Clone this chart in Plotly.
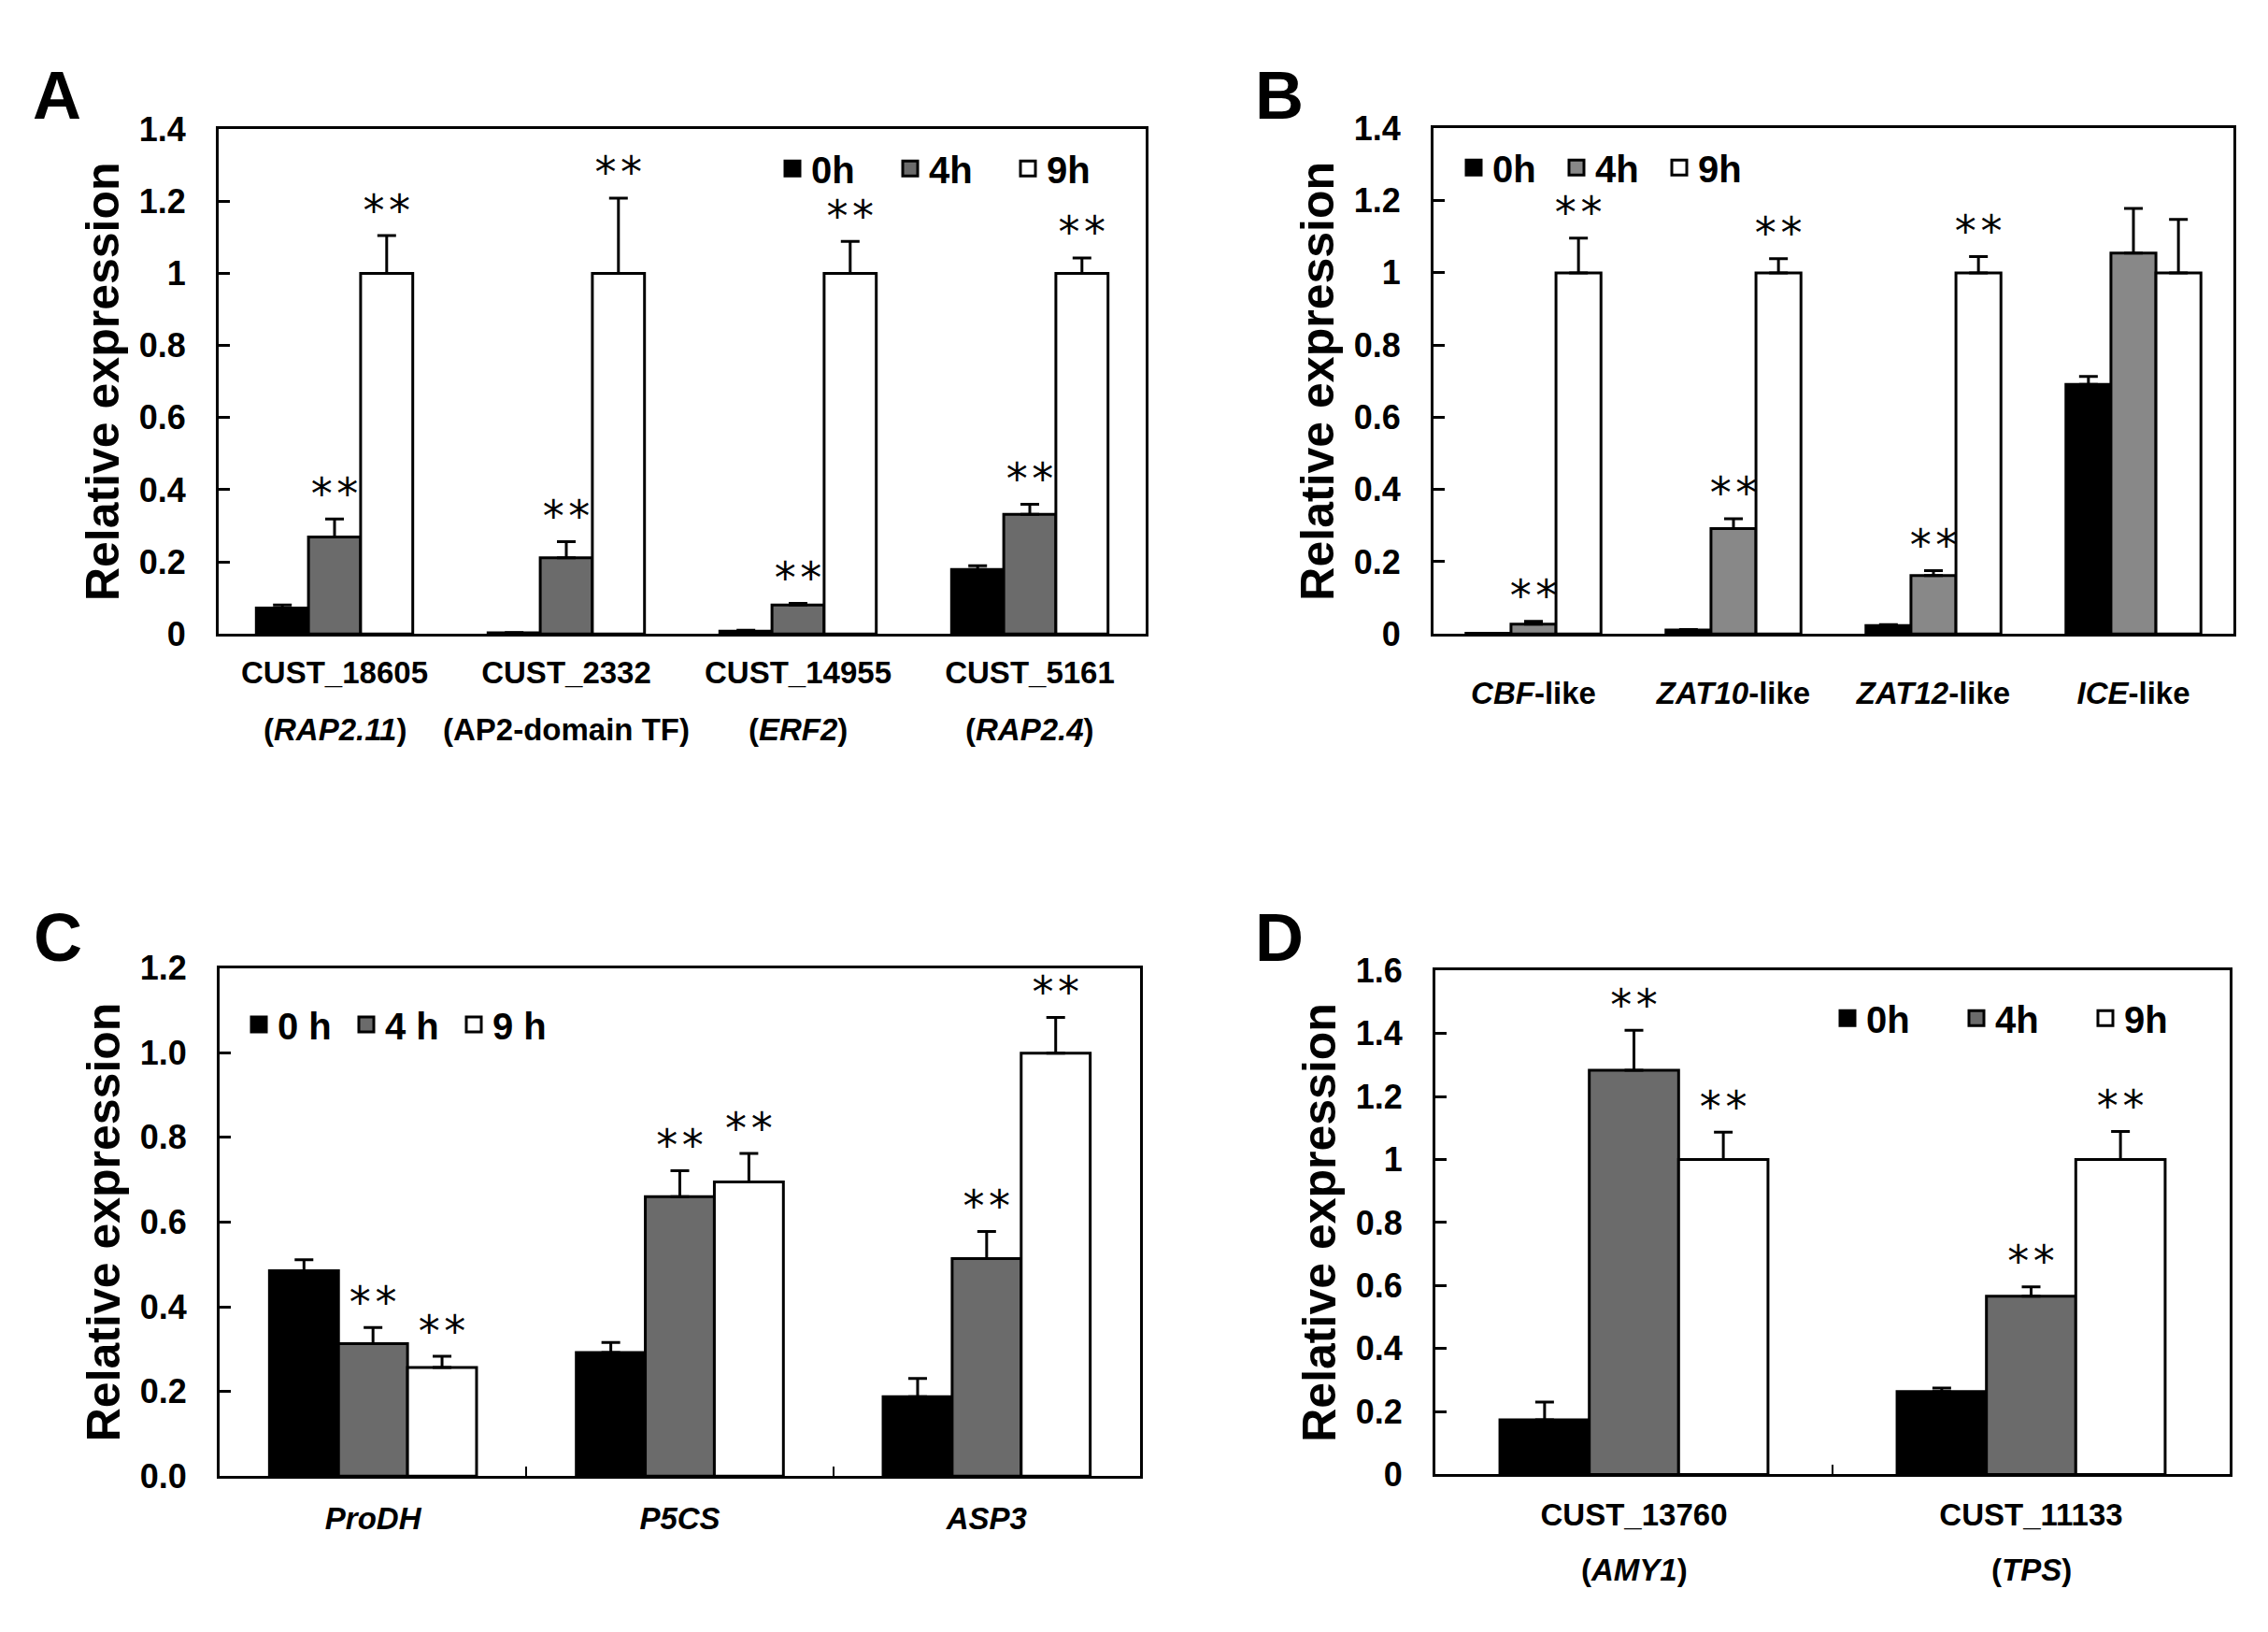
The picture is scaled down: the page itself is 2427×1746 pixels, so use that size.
import plotly.graph_objects as go
from plotly.subplots import make_subplots

# ---- data ----
times = ["0h", "4h", "9h"]
times_c = ["0 h", "4 h", "9 h"]

# panel A
a_genes = ["CUST_18605", "CUST_2332", "CUST_14955", "CUST_5161"]
a_names = ["(<i>RAP2.11</i>)", "(AP2-domain TF)", "(<i>ERF2</i>)", "(<i>RAP2.4</i>)"]
a_0h = [0.072, 0.003, 0.008, 0.179]
a_0h_err = [0.008, 0.001, 0.002, 0.010]
a_4h = [0.269, 0.211, 0.080, 0.332]
a_4h_err = [0.050, 0.045, 0.005, 0.028]
a_9h = [1.0, 1.0, 1.0, 1.0]
a_9h_err = [0.105, 0.209, 0.089, 0.043]
a_sig = [[0, 0, 0, 0], [1, 1, 1, 1], [1, 1, 1, 1]]

# panel B
b_genes = ["<i>CBF</i>-like", "<i>ZAT10</i>-like", "<i>ZAT12</i>-like", "<i>ICE</i>-like"]
b_0h = [0.002, 0.011, 0.023, 0.691]
b_0h_err = [0.0, 0.001, 0.003, 0.022]
b_4h = [0.027, 0.292, 0.162, 1.055]
b_4h_err = [0.008, 0.027, 0.013, 0.123]
b_9h = [1.0, 1.0, 1.0, 1.0]
b_9h_err = [0.096, 0.039, 0.045, 0.148]
b_sig = [[0, 0, 0, 0], [1, 1, 1, 0], [1, 1, 1, 0]]

# panel C
c_genes = ["<i>ProDH</i>", "<i>P5CS</i>", "<i>ASP3</i>"]
c_0h = [0.485, 0.292, 0.188]
c_0h_err = [0.026, 0.024, 0.043]
c_4h = [0.313, 0.660, 0.514]
c_4h_err = [0.038, 0.061, 0.064]
c_9h = [0.257, 0.695, 0.999]
c_9h_err = [0.026, 0.067, 0.084]
c_sig = [[0, 0, 0], [1, 1, 1], [1, 1, 1]]

# panel D
d_genes = ["CUST_13760", "CUST_11133"]
d_names = ["(<i>AMY1</i>)", "(<i>TPS</i>)"]
d_0h = [0.173, 0.263]
d_0h_err = [0.057, 0.011]
d_4h = [1.284, 0.566]
d_4h_err = [0.127, 0.030]
d_9h = [1.0, 1.0]
d_9h_err = [0.087, 0.089]
d_sig = [[0, 0], [1, 1], [1, 1]]

GRAY = "#6b6b6b"
GRAY_B = "#888888"
FONT = "Liberation Sans, Arial, sans-serif"
STAR_FONT = "DejaVu Sans, sans-serif"
W = 0.225  # bar width in category units

# page has an 8px body margin, so the figure is laid out in page pixels minus 8
FW, FH, OFF = 2411, 1730, 8


def fx(p):
    return (p - OFF) / FW


def fy(p):
    return 1 - (p - OFF) / FH


fig = make_subplots(rows=2, cols=2)


def add_panel(row, col, legend, names, vals, errs, sig, colors):
    n = len(vals[0])
    for k in range(3):
        xs = [i + (k - 1) * W for i in range(n)]
        fig.add_trace(go.Bar(
            x=xs, y=vals[k], width=W,
            marker=dict(color=colors[k], line=dict(color="black", width=3)),
            error_y=dict(type="data", symmetric=False, array=errs[k],
                         arrayminus=[0] * n, color="black", thickness=3, width=10),
            showlegend=False, hoverinfo="skip"), row=row, col=col)
        # legend entry
        fig.add_trace(go.Scatter(
            x=[None], y=[None], mode="markers", name=names[k], legend=legend,
            marker=dict(symbol="square", size=24, color=colors[k],
                        line=dict(color="black", width=3))), row=row, col=col)
        # significance stars
        sx = [x for x, s in zip(xs, sig[k]) if s]
        sy = [v + e for v, e, s in zip(vals[k], errs[k], sig[k]) if s]
        fig.add_trace(go.Scatter(
            x=sx, y=sy, mode="text", text=["*\u200a*"] * len(sx),
            textposition="top center",
            textfont=dict(family=STAR_FONT, size=46, color="black"),
            showlegend=False, hoverinfo="skip"), row=row, col=col)


add_panel(1, 1, "legend", times, [a_0h, a_4h, a_9h], [a_0h_err, a_4h_err, a_9h_err],
          a_sig, ["black", GRAY, "white"])
add_panel(1, 2, "legend2", times, [b_0h, b_4h, b_9h], [b_0h_err, b_4h_err, b_9h_err],
          b_sig, ["black", GRAY_B, "white"])
add_panel(2, 1, "legend3", times_c, [c_0h, c_4h, c_9h], [c_0h_err, c_4h_err, c_9h_err],
          c_sig, ["black", GRAY, "white"])
add_panel(2, 2, "legend4", times, [d_0h, d_4h, d_9h], [d_0h_err, d_4h_err, d_9h_err],
          d_sig, ["black", GRAY, "white"])

tick_font = dict(family=FONT, size=36, color="black", weight="bold")
cat_font = dict(family=FONT, size=33, color="black", weight="bold")
axis_common = dict(showline=True, linecolor="black", linewidth=3, mirror=True,
                   showgrid=False, zeroline=False, fixedrange=True)


def xax(x0, x1, n, labels, standoff, minor=False):
    d = dict(axis_common, domain=[fx(x0), fx(x1)], range=[-0.5, n - 0.5],
             tickmode="array", tickvals=list(range(n)), ticktext=labels, ticks="",
             tickfont=cat_font, ticklabelstandoff=standoff)
    if minor:
        d["minor"] = dict(tickmode="array", tickvals=[i + 0.5 for i in range(n - 1)],
                          ticks="inside", ticklen=10, tickwidth=2, tickcolor="black")
    return d


def yax(top_px, bot_px, top, fmt):
    return dict(axis_common, domain=[fy(bot_px), fy(top_px)], range=[0, top],
                dtick=0.2, tick0=0, ticks="inside", ticklen=12, tickwidth=3,
                tickcolor="black", tickfont=tick_font, tickformat=fmt,
                ticklabelstandoff=25,
                title=dict(text="Relative expression", standoff=6,
                           font=dict(family=FONT, size=50, color="black", weight="bold")))


def leg(xp, yp, entry):
    return dict(orientation="h", x=fx(xp), y=fy(yp), xanchor="left", yanchor="middle",
                bgcolor="rgba(0,0,0,0)", itemwidth=30, entrywidth=entry,
                entrywidthmode="pixels", itemclick=False, itemdoubleclick=False,
                font=dict(family=FONT, size=40, color="black", weight="bold"))


fig.update_layout(
    width=FW, height=FH, margin=dict(l=0, r=0, t=0, b=0),
    paper_bgcolor="white", plot_bgcolor="white", barmode="overlay",
    xaxis=xax(234, 1226, 4, a_genes, 10),
    yaxis=yax(121, 674, 1.4, ""),
    xaxis2=xax(1534, 2390, 4, b_genes, 32),
    yaxis2=yax(120, 674, 1.4, ""),
    xaxis3=xax(235, 1220, 3, c_genes, 14, minor=True),
    yaxis3=yax(1040, 1597, 1.2, ".1f"),
    xaxis4=xax(1536, 2386, 2, d_genes, 12, minor=True),
    yaxis4=yax(1043, 1595, 1.6, ""),
    legend=leg(828, 164, 81),
    legend2=leg(1557, 163, 65),
    legend3=leg(257, 1102, 70),
    legend4=leg(1957, 1095, 93),
)

# second line of the category labels (gene names)
for i, name in enumerate(a_names):
    fig.add_annotation(x=i, y=fy(674), xref="x", yref="paper", yshift=-102,
                       text=name, showarrow=False, yanchor="middle", font=cat_font)
for i, name in enumerate(d_names):
    fig.add_annotation(x=i, y=fy(1595), xref="x4", yref="paper", yshift=-102,
                       text=name, showarrow=False, yanchor="middle", font=cat_font)

# panel letters
for letter, px, py in [("A", 33, 84), ("B", 1341, 84),
                       ("C", 34, 1007), ("D", 1341, 1007)]:
    fig.add_annotation(x=fx(px), y=fy(py), xref="paper", yref="paper", text=letter,
                       showarrow=False, xanchor="left", yanchor="middle",
                       font=dict(family=FONT, size=72, color="black", weight="bold"))

fig.write_html("out.html")
